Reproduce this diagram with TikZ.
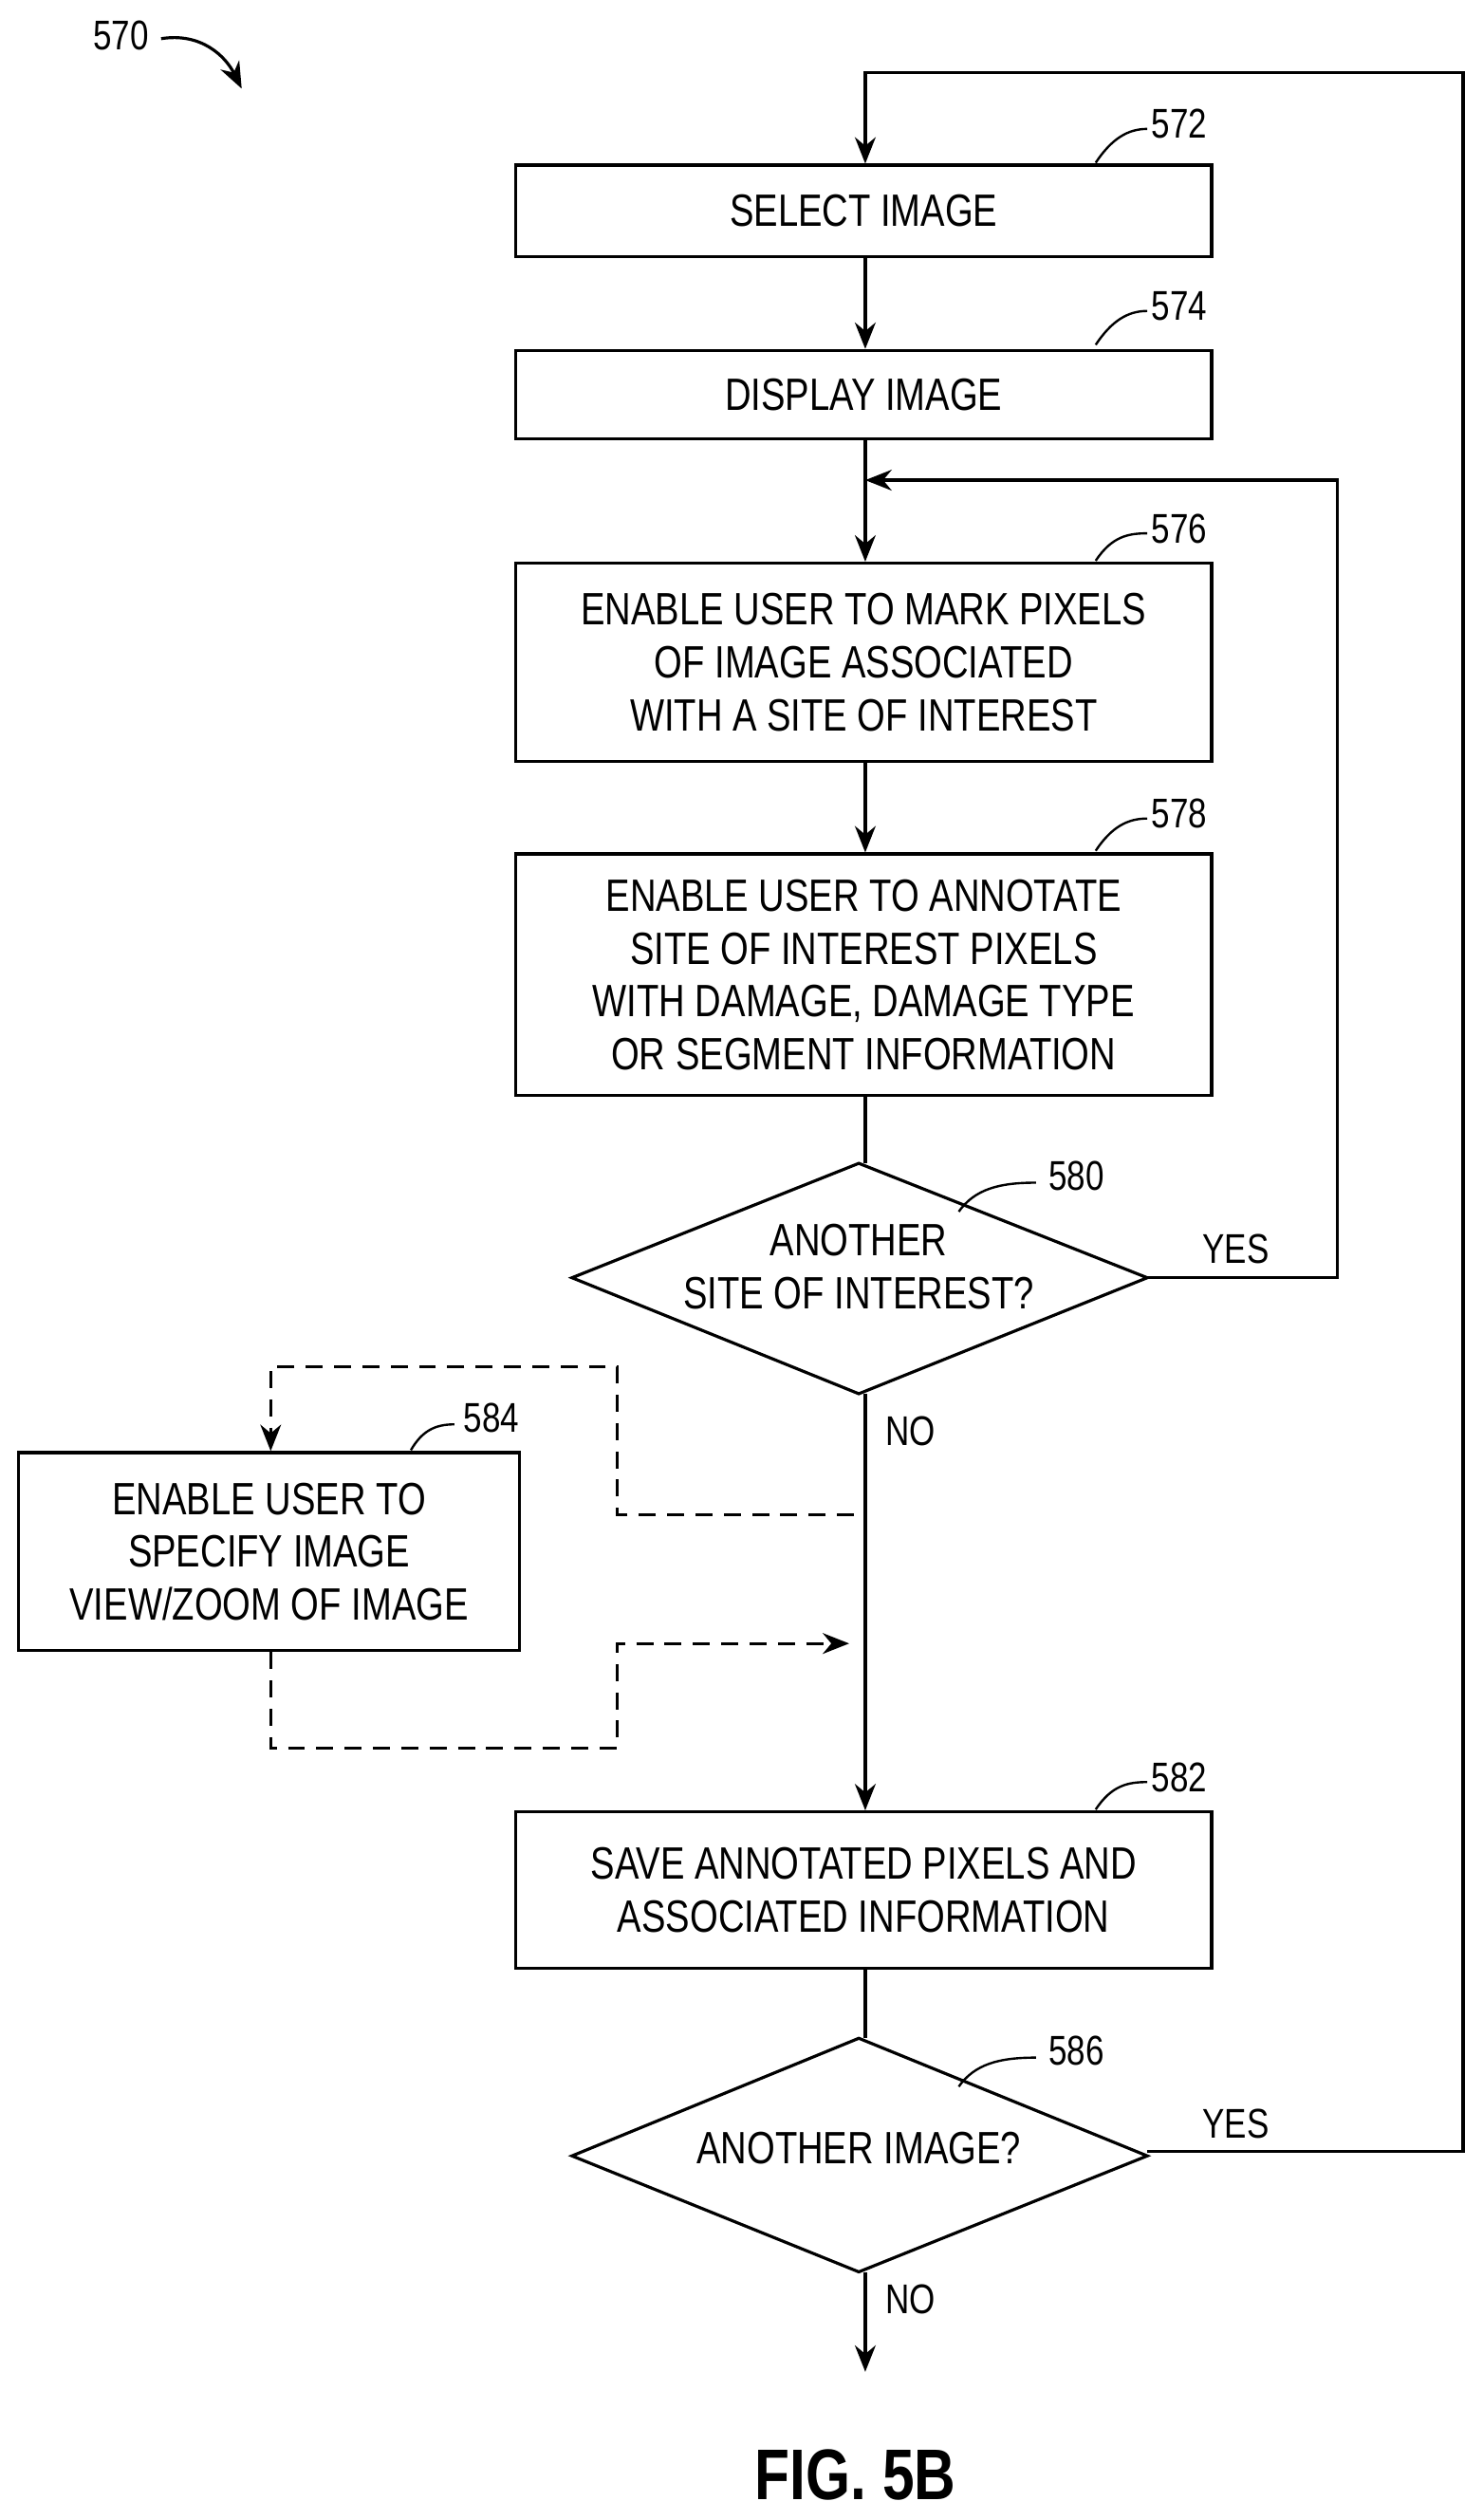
\documentclass[tikz,border=0pt]{standalone}
\usepackage{fontspec}
\setmainfont{Liberation Sans}[FakeStretch=0.8]
\usetikzlibrary{arrows.meta,shapes.geometric}
\begin{document}
\begin{tikzpicture}[x=0.03cm,y=-0.03cm,
  line width=1.6pt,
  box/.style={draw,rectangle,inner sep=0pt,align=center,font=\fontsize{24}{28}\selectfont},
  lab/.style={font=\fontsize{22}{24}\selectfont,inner sep=1pt},
  arr/.style={-{Stealth[length=14pt,width=11pt]}},
  dsh/.style={dashed,dash pattern=on 9pt off 6pt}]
\useasboundingbox (0,0) rectangle (920,1564);
\node[lab] (l570) at (75,22) {570};
\draw[arr] (100,24) .. controls (125,20) and (140,35) .. (150,55);
\node[box,minimum width=432*0.03cm,minimum height=57*0.03cm] (b572) at (536,131) {SELECT IMAGE};
\node[box,minimum width=432*0.03cm,minimum height=55*0.03cm] (b574) at (536,245) {DISPLAY IMAGE};
\node[box,minimum width=432*0.03cm,minimum height=123*0.03cm] (b576) at (536,411) {ENABLE USER TO MARK PIXELS\\OF IMAGE ASSOCIATED\\WITH A SITE OF INTEREST};
\node[box,minimum width=432*0.03cm,minimum height=150*0.03cm] (b578) at (536,605) {ENABLE USER TO ANNOTATE\\SITE OF INTEREST PIXELS\\WITH DAMAGE, DAMAGE TYPE\\OR SEGMENT INFORMATION};
\node[box,minimum width=311*0.03cm,minimum height=123*0.03cm] (b584) at (167,963) {ENABLE USER TO\\SPECIFY IMAGE\\VIEW/ZOOM OF IMAGE};
\node[box,minimum width=432*0.03cm,minimum height=97*0.03cm] (b582) at (536,1173) {SAVE ANNOTATED PIXELS AND\\ASSOCIATED INFORMATION};
\draw (355,793) -- (533,722) -- (712,793) -- (533,865) -- cycle;
\node[box,draw=none] (d580) at (533,786) {ANOTHER\\SITE OF INTEREST?};
\draw (355,1338) -- (533,1265) -- (712,1338) -- (533,1410) -- cycle;
\node[box,draw=none] (d586) at (533,1333) {ANOTHER IMAGE?};
\coordinate (d580b) at (537,865);
\coordinate (d580r) at (712,793);
\coordinate (d586b) at (537,1410);
\coordinate (d586r) at (712,1335);
\foreach \n/\x/\y/\a/\b in {572/732/77/680/101,574/732/190/680/214,576/732/328/680/348,578/732/505/680/528,582/732/1103/680/1123}{
  \node[lab] (r\n) at (\x,\y) {\n};
  \draw[line width=1.2pt] (\a,\b) .. controls (\a+10,\b-15) and (\a+20,\y+3) .. (\x-20,\y+3);
}
\node[lab] (r580) at (668,730) {580};
\draw[line width=1.2pt] (595,752) .. controls (605,738) and (620,734) .. (643,734);
\node[lab] (r586) at (668,1273) {586};
\draw[line width=1.2pt] (595,1295) .. controls (605,1281) and (620,1277) .. (643,1277);
\node[lab] (r584) at (305,880) {584};
\draw[line width=1.2pt] (255,900) .. controls (262,888) and (270,884) .. (282,884);
\draw[arr] (b572.south -| 537,0) -- (b574.north -| 537,0);
\draw[arr] (537,273) -- (b576.north -| 537,0);
\draw[arr] (b576.south -| 537,0) -- (b578.north -| 537,0);
\draw (b578.south -| 537,0) -- (537,722);
\draw[arr] (d580b) -- (b582.north -| 537,0);
\draw (b582.south -| 537,0) -- (537,1265);
\draw[arr] (d586b) -- (537,1472);
\draw[arr] (d580r) -- (830,793) -- (830,298) -- (537,298);
\draw[arr] (d586r) -- (908,1335) -- (908,45) -- (537,45) -- (b572.north -| 537,0);
\draw[dsh,arr] (530,940) -- (383,940) -- (383,848) -- (168,848) -- (b584.north -| 168,0);
\draw[dsh,arr] (b584.south -| 168,0) -- (168,1085) -- (383,1085) -- (383,1020) -- (527,1020);
\node[lab] (y1) at (767,775) {YES};
\node[lab] (y2) at (767,1318) {YES};
\node[lab] (n1) at (565,888) {NO};
\node[lab] (n2) at (565,1427) {NO};
\node[font=\fontsize{38}{40}\selectfont\bfseries,inner sep=0pt] (fig) at (531,1536) {FIG. 5B};
\end{tikzpicture}
\end{document}
